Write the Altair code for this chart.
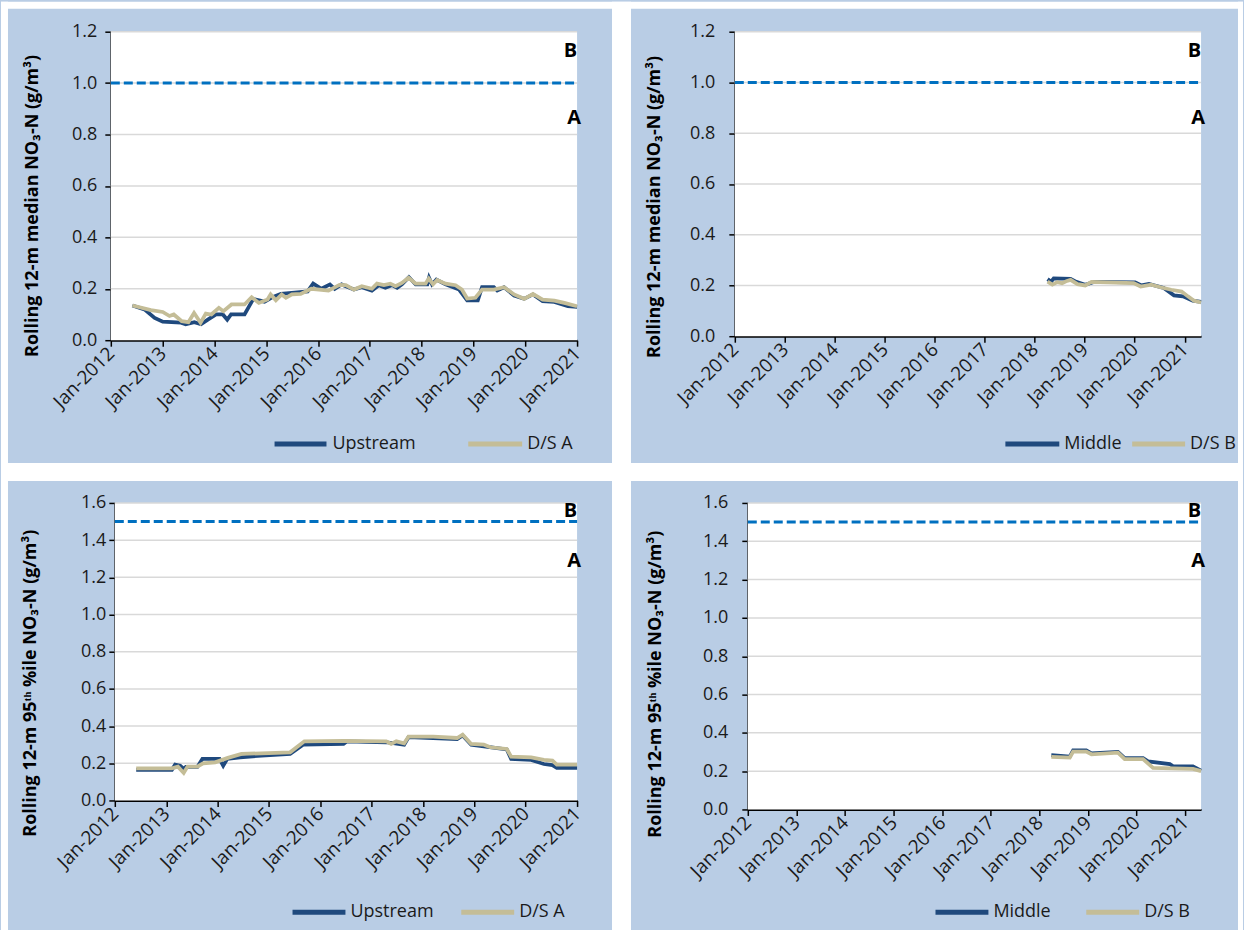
import altair as alt
import pandas as pd

# ---------------------------------------------------------------- colours
BG = "#B9CDE5"
BLUE = "#1F497D"
TAN = "#C4BD97"
LIMIT = "#0070C0"
GRID = "#D9D9D9"
INK = "#1a1a1a"
FONT = "Open Sans"

# ---------------------------------------------------------------- axes
tick_years = list(range(2012, 2022))
median_ticks = [0.0, 0.2, 0.4, 0.6, 0.8, 1.0, 1.2]
p95_ticks = [0.0, 0.2, 0.4, 0.6, 0.8, 1.0, 1.2, 1.4, 1.6]
median_limit = 1.0
p95_limit = 1.5
title_median = "Rolling 12-m median NO₃-N (g/m³)"
title_p95 = "Rolling 12-m 95ᵗʰ %ile  NO₃-N (g/m³)"

# ---------------------------------------------------------------- rolling medians
med_up_dates = ["2012-06-01", "2012-08-25", "2012-11-05", "2013-01-01", "2013-05-10", "2013-06-12",
                "2013-08-12", "2013-09-28", "2013-11-15", "2014-01-12", "2014-03-01", "2014-04-01",
                "2014-04-28", "2014-08-01", "2014-10-01", "2014-12-20", "2015-02-05", "2015-04-15",
                "2015-07-20", "2015-10-20", "2015-11-28", "2016-01-25", "2016-03-25", "2016-04-28",
                "2016-06-15", "2016-09-10", "2016-11-05", "2017-01-15", "2017-03-05", "2017-04-20",
                "2017-06-05", "2017-07-12", "2017-08-15", "2017-10-03", "2017-11-20", "2018-02-10",
                "2018-02-22", "2018-03-15", "2018-04-15", "2018-06-18", "2018-09-22", "2018-11-18",
                "2019-02-01", "2019-03-03", "2019-05-25", "2019-06-18", "2019-08-05", "2019-10-15",
                "2019-12-25", "2020-02-25", "2020-05-03", "2020-07-25", "2020-10-28", "2021-01-01"]
med_up_vals = [0.135, 0.120, 0.087, 0.072, 0.068, 0.062,
               0.070, 0.062, 0.080, 0.100, 0.100, 0.080,
               0.100, 0.100, 0.160, 0.150, 0.165, 0.180,
               0.185, 0.190, 0.220, 0.200, 0.217, 0.200,
               0.217, 0.197, 0.206, 0.193, 0.214, 0.204,
               0.214, 0.204, 0.217, 0.245, 0.217, 0.217,
               0.243, 0.217, 0.236, 0.217, 0.197, 0.155,
               0.155, 0.206, 0.206, 0.193, 0.206, 0.174,
               0.161, 0.178, 0.152, 0.149, 0.132, 0.130]

med_dsa_dates = ["2012-06-01", "2012-10-10", "2013-01-01", "2013-02-18", "2013-03-20", "2013-05-15",
                 "2013-07-01", "2013-08-10", "2013-09-25", "2013-11-01", "2013-12-10", "2014-02-01",
                 "2014-03-05", "2014-05-01", "2014-08-01", "2014-09-20", "2014-11-10", "2015-01-10",
                 "2015-02-01", "2015-03-10", "2015-04-20", "2015-05-20", "2015-07-01", "2015-09-01",
                 "2015-11-15", "2016-03-15", "2016-06-01", "2016-07-15", "2016-09-10", "2016-11-05",
                 "2017-01-15", "2017-02-20", "2017-04-10", "2017-05-25", "2017-07-01", "2017-08-15",
                 "2017-10-01", "2017-11-20", "2018-01-28", "2018-02-20", "2018-03-22", "2018-04-20",
                 "2018-06-18", "2018-08-28", "2018-10-12", "2018-11-18", "2019-01-15", "2019-03-03",
                 "2019-05-25", "2019-08-05", "2019-10-15", "2019-12-25", "2020-02-25", "2020-05-03",
                 "2020-07-25", "2020-10-03", "2021-01-01"]
med_dsa_vals = [0.135, 0.117, 0.110, 0.094, 0.100, 0.074,
                0.070, 0.106, 0.068, 0.104, 0.100, 0.126,
                0.113, 0.139, 0.139, 0.167, 0.145, 0.158,
                0.178, 0.155, 0.178, 0.165, 0.178, 0.180,
                0.200, 0.193, 0.215, 0.214, 0.197, 0.210,
                0.200, 0.220, 0.214, 0.220, 0.210, 0.223,
                0.243, 0.220, 0.220, 0.240, 0.217, 0.234,
                0.220, 0.214, 0.197, 0.162, 0.165, 0.197,
                0.197, 0.206, 0.178, 0.161, 0.180, 0.158,
                0.154, 0.145, 0.132]

med_mid_dates = ["2018-04-05", "2018-05-01", "2018-05-20", "2018-09-20", "2018-11-01", "2019-01-05",
                 "2019-03-10", "2020-01-05", "2020-02-20", "2020-04-15", "2020-08-01", "2020-10-15",
                 "2020-12-20", "2021-03-01", "2021-05-01"]
med_mid_vals = [0.225, 0.215, 0.228, 0.226, 0.214, 0.203,
                0.214, 0.212, 0.200, 0.206, 0.190, 0.161,
                0.157, 0.140, 0.135]

med_dsb_dates = ["2018-04-05", "2018-05-10", "2018-06-15", "2018-07-20", "2018-08-25", "2018-09-20",
                 "2018-11-10", "2019-01-05", "2019-02-20", "2019-12-25", "2020-02-15", "2020-05-01",
                 "2020-07-15", "2020-09-25", "2020-12-10", "2021-01-25", "2021-03-10", "2021-05-01"]
med_dsb_vals = [0.215, 0.203, 0.213, 0.209, 0.218, 0.222,
                0.205, 0.200, 0.214, 0.209, 0.196, 0.203,
                0.192, 0.183, 0.176, 0.157, 0.140, 0.133]

# ---------------------------------------------------------------- rolling 95th percentiles
p95_up_dates = ["2012-06-01", "2013-02-10", "2013-03-05", "2013-04-10", "2013-05-05", "2013-05-20",
                "2013-08-10", "2013-09-15", "2014-01-15", "2014-02-10", "2014-03-10", "2014-06-10",
                "2014-11-10", "2015-06-01", "2015-09-01", "2016-06-15", "2016-07-10", "2017-04-15",
                "2017-08-20", "2017-09-20", "2018-09-01", "2018-10-10", "2018-12-10", "2019-08-20",
                "2019-09-20", "2020-02-10", "2020-05-10", "2020-07-10", "2020-08-10", "2021-01-01"]
p95_up_vals = [0.165, 0.165, 0.193, 0.187, 0.170, 0.180,
               0.180, 0.223, 0.223, 0.187, 0.223, 0.232,
               0.241, 0.250, 0.300, 0.304, 0.318, 0.313,
               0.300, 0.340, 0.330, 0.350, 0.300, 0.274,
               0.223, 0.218, 0.196, 0.190, 0.175, 0.175]

p95_dsa_dates = ["2012-06-01", "2013-02-10", "2013-03-25", "2013-05-05", "2013-06-01", "2013-08-10",
                 "2013-09-20", "2013-12-15", "2014-03-15", "2014-06-20", "2015-06-01", "2015-09-10",
                 "2016-06-15", "2017-04-15", "2017-05-20", "2017-06-25", "2017-08-20", "2017-09-20",
                 "2018-03-15", "2018-09-01", "2018-10-10", "2018-12-10", "2019-03-10", "2019-04-25",
                 "2019-08-20", "2019-09-20", "2020-02-10", "2020-05-10", "2020-07-10", "2020-08-10",
                 "2021-01-01"]
p95_dsa_vals = [0.173, 0.173, 0.182, 0.148, 0.182, 0.182,
                0.200, 0.205, 0.229, 0.250, 0.259, 0.318,
                0.321, 0.318, 0.304, 0.318, 0.307, 0.343,
                0.343, 0.336, 0.354, 0.304, 0.300, 0.286,
                0.277, 0.236, 0.232, 0.218, 0.214, 0.193,
                0.193]

p95_mid_dates = ["2018-04-01", "2018-08-18", "2018-09-12", "2018-12-20", "2019-01-28", "2019-08-15",
                 "2019-10-05", "2020-02-20", "2020-03-28", "2020-09-08", "2020-10-03", "2021-03-01",
                 "2021-05-01"]
p95_mid_vals = [0.283, 0.276, 0.308, 0.308, 0.293, 0.300,
                0.268, 0.268, 0.251, 0.237, 0.225, 0.225,
                0.203]

p95_dsb_dates = ["2018-04-01", "2018-08-18", "2018-09-12", "2018-12-20", "2019-01-28", "2019-08-15",
                 "2019-10-05", "2020-02-20", "2020-05-05", "2021-03-01", "2021-05-01"]
p95_dsb_vals = [0.275, 0.271, 0.302, 0.302, 0.288, 0.297,
                0.263, 0.263, 0.217, 0.212, 0.200]


def utc(y, m=1, d=1):
    return alt.DateTime(year=y, month=m, date=d, utc=True)


def one_row():
    return pd.DataFrame({"k": [0]})


def key_entry(name, colour, x1, x2, tx, ty):
    """One legend entry: a thick line sample followed by the series name."""
    sample = alt.Chart(one_row()).mark_rule(color=colour, strokeWidth=5).encode(
        x=alt.value(x1), x2=alt.value(x2), y=alt.value(ty))
    label = alt.Chart(one_row()).mark_text(
        align="left", baseline="middle", fontSize=18, color=INK).encode(
        x=alt.value(tx), y=alt.value(ty), text=alt.value(name))
    return [sample, label]


def panel(first, second, names, ticks, limit, ytitle, xend, w, h, x0,
          label_pad, title_x, title_y, b_val, a_val, key, extra=None):
    data = pd.concat([
        pd.DataFrame({"date": first[0], "value": first[1], "series": names[0]}),
        pd.DataFrame({"date": second[0], "value": second[1], "series": names[1]}),
    ])
    xsc = alt.Scale(type="utc", domain=[utc(2012), xend], range=[x0, w])
    ysc = alt.Scale(domain=[ticks[0], ticks[-1]], nice=False, zero=True)
    csc = alt.Scale(domain=names, range=[BLUE, TAN])

    xaxis = alt.Axis(values=[utc(y) for y in tick_years], format="%b-%Y", labelAngle=315,
                     labelAlign="right", labelBaseline="middle", labelFlush=False,
                     labelOverlap=False, labelPadding=4, labelFontSize=19, tickSize=6,
                     grid=False, title=None)
    yaxis = alt.Axis(values=ticks, format=".1f", grid=False, tickSize=6, labelPadding=label_pad,
                     title=ytitle, titleAngle=270, titleX=title_x, titleY=title_y,
                     titleAlign="center", titleBaseline="middle", offset=-x0)

    plot_bg = alt.Chart(one_row()).mark_rect(color="white").encode(
        x=alt.value(x0), x2=alt.value(w), y=alt.value(0), y2=alt.value(h))
    grid = alt.Chart(pd.DataFrame({"tick": ticks[1:]})).mark_rule(
        color=GRID, strokeWidth=1.5).encode(
        y=alt.Y("tick:Q", scale=ysc, axis=yaxis), x=alt.value(x0), x2=alt.value(w))
    limit_rule = alt.Chart(pd.DataFrame({"limit": [limit]})).mark_rule(
        color=LIMIT, strokeWidth=3, strokeDash=[9, 4]).encode(
        y=alt.Y("limit:Q", scale=ysc, axis=yaxis), x=alt.value(x0), x2=alt.value(w))

    base = alt.Chart(data)
    lines = [
        base.transform_filter(alt.datum.series == n).mark_line(strokeWidth=3.75).encode(
            x=alt.X("date:T", scale=xsc, axis=xaxis),
            y=alt.Y("value:Q", scale=ysc, axis=yaxis),
            color=alt.Color("series:N", scale=csc, legend=None))
        for n in names
    ]

    band_b = alt.Chart(pd.DataFrame({"lab": ["B"], "v": [b_val]})).mark_text(
        align="right", baseline="middle", fontSize=20, fontWeight="bold", color="black").encode(
        text="lab:N", y=alt.Y("v:Q", scale=ysc, axis=yaxis), x=alt.value(w))
    band_a = alt.Chart(pd.DataFrame({"lab": ["A"], "v": [a_val]})).mark_text(
        align="right", baseline="middle", fontSize=20, fontWeight="bold", color="black").encode(
        text="lab:N", y=alt.Y("v:Q", scale=ysc, axis=yaxis), x=alt.value(w + 4))

    # legend row under the x axis
    (b1, b2, bt), (t1, t2, tt), ky = key
    legend = key_entry(names[0], BLUE, b1, b2, bt, ky) + key_entry(names[1], TAN, t1, t2, tt, ky)

    layers = (extra or []) + [plot_bg, grid, limit_rule] + lines + [band_b, band_a] + legend
    return alt.layer(*layers).properties(width=w, height=h)


# white margins and gutters around the four panel cards (offsets from the first plot's origin)
def white_box(x1, x2, y1, y2):
    return alt.Chart(one_row()).mark_rect(color="white").encode(
        x=alt.value(x1), x2=alt.value(x2), y=alt.value(y1), y2=alt.value(y2))


gutters = [
    white_box(-110, -103, -30, 900),
    white_box(-110, 1134, -30, -23),
    white_box(1129, 1134, -30, 900),
    white_box(502, 521, -30, 900),
    white_box(-110, 1134, 432, 450),
]

W = 467
tl = panel((med_up_dates, med_up_vals), (med_dsa_dates, med_dsa_vals), ["Upstream", "D/S A"],
           median_ticks, median_limit, title_median, utc(2021), W, 309, 0,
           8, -78, 174, 1.124, 0.864,
           ((164, 216, 222), (358, 412, 417), 413), extra=gutters)
tr = panel((med_mid_dates, med_mid_vals), (med_dsb_dates, med_dsb_vals), ["Middle", "D/S B"],
           median_ticks, median_limit, title_median, utc(2021, 5, 1), W, 305, 0,
           14, -80, 175, 1.123, 0.858,
           ((271, 325, 330), (398, 451, 456), 413))
bl = panel((p95_up_dates, p95_up_vals), (p95_dsa_dates, p95_dsa_vals), ["Upstream", "D/S A"],
           p95_ticks, p95_limit, title_p95, utc(2021), W, 298, 4,
           3, -84, 180, 1.557, 1.289,
           ((182, 235, 240), (351, 404, 409), 410))
br = panel((p95_mid_dates, p95_mid_vals), (p95_dsb_dates, p95_dsb_vals), ["Middle", "D/S B"],
           p95_ticks, p95_limit, title_p95, utc(2021, 5, 1), W, 307, 13,
           14, -92, 181, 1.558, 1.297,
           ((201, 254, 259), (352, 405, 410), 410))

chart = alt.concat(
    tl, tr, bl, br, columns=2, spacing={"column": 158, "row": 163},
    bounds="flush", align="all",
).resolve_scale(
    x="independent", y="independent", color="independent"
).properties(
    padding=0, background=BG
).configure(
    font=FONT
).configure_view(
    stroke="transparent"
).configure_axis(
    domainColor="black", domainWidth=2, tickColor="black", tickWidth=1.5,
    labelFontSize=18, labelColor=INK, titleFontSize=18, titleFontWeight="bold",
    titleColor="black"
)

chart.save("out.html", embed_options={"renderer": "svg", "actions": False})
